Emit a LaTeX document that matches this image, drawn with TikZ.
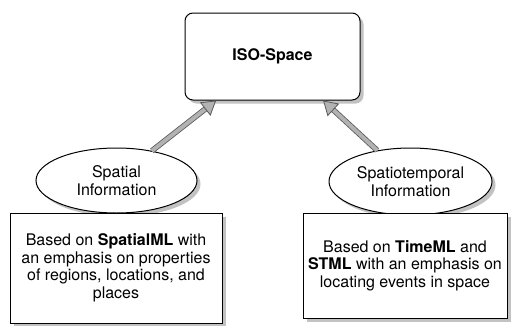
\documentclass[tikz,border=0pt]{standalone}
\usepackage{fontspec}
\setmainfont{TeX Gyre Heros}
\usetikzlibrary{shapes.geometric,   % ellipse nodes
                arrows.meta,        % arrow tips
                shadows}            % drop shadows

\tikzset{
  shade/.style={drop shadow={shadow xshift=3.5pt, shadow yshift=-3.5pt, opacity=0.4, fill=black!60}},
  infobox/.style={draw, line width=1pt, fill=white, align=center, inner sep=2pt, shade},
  topic/.style={ellipse, draw, line width=1pt, fill=white, align=center, inner sep=0pt, shade},
  feed/.style={black!65, line width=0.8pt, double=black!30, double distance=4pt,
               -{Triangle[open, fill=black!30, length=14pt, width=17pt, line width=0.8pt]}}
}

\begin{document}
\begin{tikzpicture}[x=1pt, y=1pt, font=\fontsize{16}{17.5}\selectfont]
  \useasboundingbox (0,0) rectangle (513,325);

  % top box
  \node[infobox, rounded corners=8pt, minimum width=175pt, minimum height=87pt] (iso) at (272.5,268.5) {\textbf{ISO-Space}};

  % the two sources
  \node[topic, minimum width=161pt, minimum height=65pt] (spatial) at (116.5,144.5) {Spatial\\Information};
  \node[topic, minimum width=163pt, minimum height=67pt] (spatiotemp) at (410.5,143.5) {Spatiotemporal\\Information};

  \node[infobox, minimum width=212pt, minimum height=110pt] (spatialml) at (116,57)
       {Based on \textbf{SpatialML} with\\an emphasis on properties\\of regions, locations, and\\places};
  \node[infobox, minimum width=204pt, minimum height=105pt] (timeml) at (405,59.5)
       {Based on \textbf{TimeML} and\\\textbf{STML} with an emphasis on\\locating events in space};

  \draw[feed] (spatial.40) -- (iso.218);
  \draw[feed] (spatiotemp.137) -- (iso.319);
\end{tikzpicture}
\end{document}
